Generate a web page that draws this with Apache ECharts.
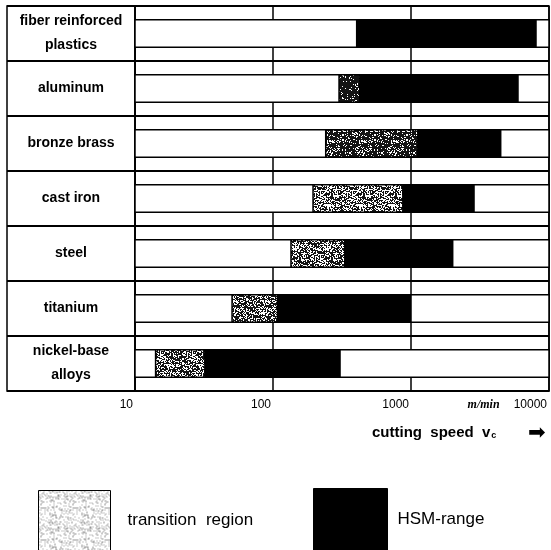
<!DOCTYPE html>
<html>
<head>
<meta charset="utf-8">
<script src="https://cdn.jsdelivr.net/npm/echarts@6/dist/echarts.min.js"></script>
<style>html,body{margin:0;padding:0;background:#fff;}#c{width:551px;height:550px;}</style>
</head>
<body>
<div id="c"></div>
<script>
// ---- data ----
var categories = ['fiber reinforced\nplastics', 'aluminum', 'bronze brass', 'cast iron', 'steel', 'titanium', 'nickel-base\nalloys'];
var transitionStart = [404, 301, 241, 195, 135, 50.5, 14.1];   // m/min
var hsmStart        = [404, 427, 1124, 875, 332, 108, 32.2];  // m/min (end of transition region)
var hsmEnd          = [8050, 5960, 4467, 2862, 2005, 1000, 306]; // m/min
var axisMin = 10, axisMax = 10000;
var tickLabels = {10: '10', 100: '100', 1000: '1000', 10000: '10000'};
var unitLabel = 'm/min';
var legendNames = ['transition region', 'HSM-range'];

// ---- styles (not data) ----
var shadeWhite = [0.45, 0.12, 0.22, 0.5, 0.45, 0.4, 0.42];

function makePattern(whiteFrac, dark, size) {
  var c = document.createElement('canvas');
  c.width = size; c.height = size;
  var ctx = c.getContext('2d');
  var img = ctx.createImageData(size, size);
  for (var j = 0; j < size; j++) {
    for (var i = 0; i < size; i++) {
      var s = Math.sin(i * 12.9898 + j * 78.233) * 43758.5453;
      var h = s - Math.floor(s);
      var v = h < whiteFrac ? 255 : dark;
      var k = (j * size + i) * 4;
      img.data[k] = v; img.data[k + 1] = v; img.data[k + 2] = v; img.data[k + 3] = 255;
    }
  }
  ctx.putImageData(img, 0, 0);
  return { image: c, repeat: 'repeat' };
}
var rowPatterns = shadeWhite.map(function (w) { return makePattern(w, 20, 32); });
var legendPattern = makePattern(0.8, 150, 32);

var baseData = categories.map(function (c, i) { return [axisMin, axisMax, i]; });
var transData = categories.map(function (c, i) { return [transitionStart[i], hsmStart[i], i]; });
var hsmData = categories.map(function (c, i) { return [hsmStart[i], hsmEnd[i], i]; });

function rectRenderer(fillFn) {
  return function (params, api) {
    var a = api.value(0), b = api.value(1), row = api.value(2);
    if (!(b > a)) return null;
    var p0 = api.coord([a, row]);
    var p1 = api.coord([b, row]);
    var band = Math.abs(api.coord([axisMin, 1])[1] - api.coord([axisMin, 0])[1]);
    var h = band * 0.5;
    return {
      type: 'rect',
      shape: { x: p0[0], y: p0[1] - h / 2, width: p1[0] - p0[0], height: h },
      style: { fill: fillFn(row), stroke: '#000', lineWidth: 1.5 }
    };
  };
}

var chart = echarts.init(document.getElementById('c'), null, { renderer: 'canvas' });
var font = 'Liberation Sans';
chart.setOption({
  animation: false,
  backgroundColor: '#fff',
  textStyle: { fontFamily: font, color: '#000' },
  grid: [
    { left: 7, top: 6, width: 128, height: 385, show: true, borderColor: '#000', borderWidth: 1.5, backgroundColor: 'transparent' },
    { left: 135, top: 6, width: 414, height: 385, show: true, borderColor: '#000', borderWidth: 1.5, backgroundColor: 'transparent' }
  ],
  xAxis: [
    { gridIndex: 0, type: 'value', show: false, min: 0, max: 1 },
    {
      gridIndex: 1, type: 'log', logBase: 10, min: axisMin, max: axisMax,
      axisLine: { show: true, lineStyle: { color: '#000', width: 1.5 } },
      axisTick: { show: false },
      splitLine: { show: true, lineStyle: { color: '#000', width: 1.5 } },
      axisLabel: {
        showMinLabel: true, showMaxLabel: true,
        margin: 8, align: 'right', padding: [0, 2, 0, 0],
        fontFamily: font, fontSize: 12, color: '#000',
        formatter: function (v) {
          var t = tickLabels[Math.round(v)] || '';
          if (Math.round(v) === axisMax) return '{u|' + unitLabel + '}' + t;
          return t;
        },
        rich: {
          u: { fontFamily: 'Liberation Serif', fontStyle: 'italic', fontWeight: 'bold', fontSize: 12, padding: [0, 14, 0, 0], color: '#000' }
        }
      }
    }
  ],
  yAxis: [
    {
      gridIndex: 0, type: 'category', inverse: true, data: categories,
      axisLine: { show: false }, axisTick: { show: false }, axisLabel: { show: false },
      splitLine: { show: true, interval: 0, lineStyle: { color: '#000', width: 2 } }
    },
    {
      gridIndex: 1, type: 'category', inverse: true, data: categories,
      axisLine: { show: false }, axisTick: { show: false },
      splitLine: { show: true, interval: 0, lineStyle: { color: '#000', width: 2 } },
      axisLabel: {
        interval: 0, margin: 64, align: 'center',
        fontFamily: font, fontSize: 14, fontWeight: 'bold', lineHeight: 24, color: '#000'
      }
    }
  ],
  title: [
    {
      left: 372, top: 425, padding: 0,
      text: 'cutting  speed  v{s|c}',
      textStyle: {
        fontFamily: font, fontSize: 15, fontWeight: 'bold', color: '#000',
        rich: { s: { fontFamily: font, fontSize: 9, fontWeight: 'bold', verticalAlign: 'bottom', padding: [6, 0, 0, 1], color: '#000' } }
      }
    },
    {
      left: 528, top: 423, padding: 0,
      text: '\u27A1',
      textStyle: { fontFamily: 'DejaVu Sans', fontSize: 21, fontWeight: 'normal', color: '#000' }
    }
  ],
  legend: [
    {
      left: 38, top: 490, padding: 0, itemWidth: 72, itemHeight: 60, icon: 'rect', selectedMode: false,
      data: [{ name: legendNames[0], itemStyle: { color: legendPattern, borderColor: '#000', borderWidth: 1 } }],
      formatter: function (n) { return n.replace(' ', '  '); },
      textStyle: { fontFamily: font, fontSize: 17, color: '#000', padding: [0, 0, 0, 12] }
    },
    {
      left: 313, top: 488, padding: 0, itemWidth: 74, itemHeight: 62, icon: 'rect', selectedMode: false,
      data: [{ name: legendNames[1], itemStyle: { color: '#000', borderColor: '#000', borderWidth: 1 } }],
      textStyle: { fontFamily: font, fontSize: 17, color: '#000', padding: [0, 0, 0, 5] }
    }
  ],
  series: [
    {
      name: 'base', type: 'custom', xAxisIndex: 1, yAxisIndex: 1,
      encode: { x: [0, 1], y: 2 }, data: baseData,
      renderItem: rectRenderer(function () { return '#fff'; }),
      itemStyle: { color: '#fff' }
    },
    {
      name: legendNames[0], type: 'custom', xAxisIndex: 1, yAxisIndex: 1,
      encode: { x: [0, 1], y: 2 }, data: transData,
      renderItem: rectRenderer(function (row) { return rowPatterns[row]; }),
      itemStyle: { color: legendPattern }
    },
    {
      name: legendNames[1], type: 'custom', xAxisIndex: 1, yAxisIndex: 1,
      encode: { x: [0, 1], y: 2 }, data: hsmData,
      renderItem: rectRenderer(function () { return '#000'; }),
      itemStyle: { color: '#000' }
    }
  ]
});
</script>
</body>
</html>
